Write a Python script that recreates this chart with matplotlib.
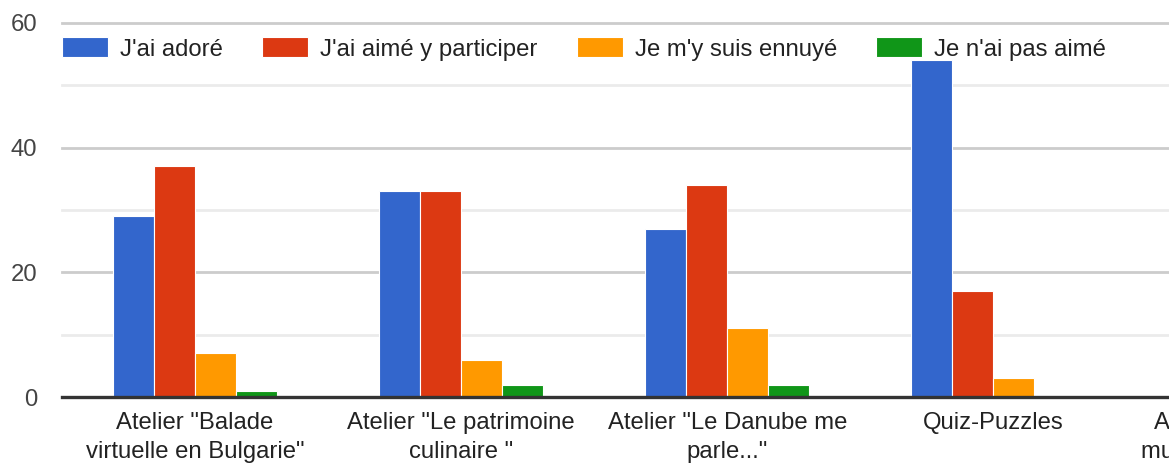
import numpy as np
import matplotlib
matplotlib.use("Agg")
import matplotlib.pyplot as plt

plt.rcParams['font.family'] = ['Liberation Sans', 'DejaVu Sans']

# categories (the last one is cut off at the right edge in the original)
categories = ['Atelier "Balade\nvirtuelle en Bulgarie"',
              'Atelier "Le patrimoine\nculinaire "',
              'Atelier "Le Danube me\nparle..."',
              'Quiz-Puzzles',
              'Atelier "Les musées\nmusicaux de Bulgarie"']

series = ["J'ai adoré", "J'ai aimé y participer", "Je m'y suis ennuyé", "Je n'ai pas aimé"]
adore = [29, 33, 27, 54]
aime = [37, 33, 34, 17]
ennuye = [7, 6, 11, 3]
pas_aime = [1, 2, 2, 0]
colors = ['#3366CC', '#DC3912', '#FF9900', '#109618']

yticks = [0, 20, 40, 60]
yminor = [10, 30, 50]

FS = 17.2

fig = plt.figure(figsize=(11.69, 4.67), dpi=100)
ax = fig.add_axes([62 / 1169, 70 / 467, 1 - 62 / 1169, (397 - 23) / 467])

x = np.arange(len(adore))
w = 0.154
for i, (vals, col, lab) in enumerate(zip([adore, aime, ennuye, pas_aime], colors, series)):
    ax.bar(x + (i - 1.5) * w, vals, width=w, color=col, label=lab,
           edgecolor='white', linewidth=0.8, zorder=3)

for v in yminor:
    ax.axhline(v, color='#ebebeb', lw=2, zorder=1, clip_on=False)
for v in yticks[1:]:
    ax.axhline(v, color='#cccccc', lw=2, zorder=1, clip_on=False)
ax.axhline(0, color='#333333', lw=2.4, zorder=4, clip_on=False)

ax.set_yticks(yticks)
ax.set_yticklabels([str(v) for v in yticks], fontsize=FS, color='#444444')
ax.set_xticks(x)
ax.set_xticklabels(categories[:len(x)], fontsize=FS, color='#222222', linespacing=1.4)
ax.set_xlim(-0.5, 3.66)
ax.set_ylim(0, 60)
ax.tick_params(axis='both', length=0)
ax.tick_params(axis='y', pad=18)
ax.tick_params(axis='x', pad=11)
for s in ax.spines.values():
    s.set_visible(False)

# fifth category label, cut by the right edge of the picture
trans = ax.get_xaxis_transform()
lab = ax.get_xticklabels()[0]
ax.text(len(x), 0, categories[-1], transform=trans, ha='center', va='top',
        fontsize=FS, color='#222222', linespacing=1.4, clip_on=False)
fig.canvas.draw()
# align the extra label with the real tick labels
bb = ax.get_xticklabels()[0].get_window_extent()
txt = ax.texts[-1]
tb = txt.get_window_extent()
txt.set_position((len(x), 0))
txt.set_transform(trans + matplotlib.transforms.ScaledTranslation(0, (bb.y1 - tb.y1) / 100, fig.dpi_scale_trans))

fig.legend(loc='center left', bbox_to_anchor=(62 / 1169, 1 - 49 / 467), ncol=4,
           frameon=False, fontsize=FS, labelcolor='#222222',
           handlelength=1.92, handleheight=0.92, handletextpad=0.5,
           columnspacing=1.65, borderpad=0, borderaxespad=0)

fig.savefig('out.png', dpi=100)
